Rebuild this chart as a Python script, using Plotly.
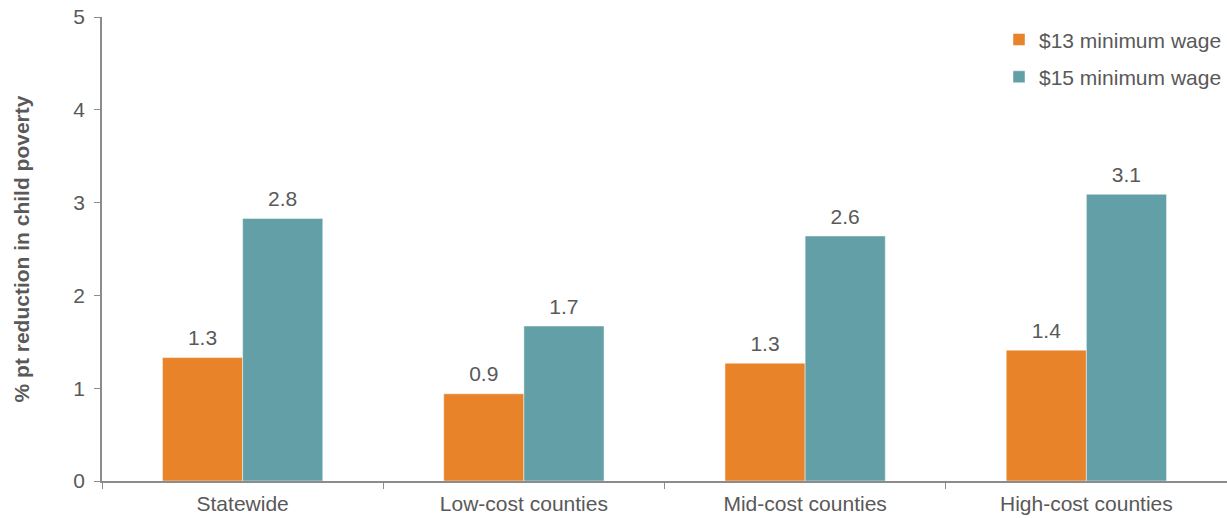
import plotly.graph_objects as go

categories = ["Statewide", "Low-cost counties", "Mid-cost counties", "High-cost counties"]
wage_13 = [1.33, 0.94, 1.27, 1.41]
wage_15 = [2.83, 1.67, 2.64, 3.09]
series_names = ["$13 minimum wage", "$15 minimum wage"]
colors = ["#E8832A", "#629FA6"]

FONT = "Liberation Sans, Arial, sans-serif"
GREY = "#595959"
AXIS = "#8C8C8C"
SIZE = 21
GAP = 0.43

fig = go.Figure()
for i, (name, vals, col) in enumerate(zip(series_names, [wage_13, wage_15], colors)):
    fig.add_trace(go.Bar(
        x=categories, y=vals, name=name, legendgroup=f"g{i}",
        marker=dict(color=col, line=dict(color="rgba(255,255,255,0.6)", width=0.8)),
    ))
# value labels, grouped the same way as the bars and lifted by a hidden marker
for i, vals in enumerate([wage_13, wage_15]):
    fig.add_trace(go.Scatter(
        x=categories, y=vals, mode="markers+text", showlegend=False,
        hoverinfo="skip", legendgroup=f"g{i}",
        marker=dict(size=10, color="rgba(0,0,0,0)"),
        texttemplate="%{y:.1f}", textposition="top center",
        textfont=dict(family=FONT, size=SIZE, color=GREY),
        cliponaxis=False,
    ))

fig.update_layout(
    width=1227, height=518,
    margin=dict(l=102, r=0, t=17, b=37),
    plot_bgcolor="white", paper_bgcolor="white",
    barmode="group", bargap=GAP, bargroupgap=0,
    scattermode="group", scattergap=GAP,
    font=dict(family=FONT, size=SIZE, color=GREY),
    legend=dict(x=1, xanchor="right", y=0.995, yanchor="top",
                font=dict(family=FONT, size=SIZE, color=GREY),
                traceorder="grouped", tracegroupgap=7,
                itemwidth=30, bgcolor="rgba(0,0,0,0)"),
    showlegend=True,
)
fig.update_xaxes(
    showline=True, linecolor=AXIS, linewidth=1.5,
    ticks="outside", tickson="boundaries", ticklen=6, tickcolor=AXIS,
    tickfont=dict(family=FONT, size=SIZE, color=GREY),
    ticklabelstandoff=3,
    showgrid=False,
)
fig.update_yaxes(
    range=[0, 5], dtick=1,
    showline=True, linecolor=AXIS, linewidth=1.5,
    ticks="outside", ticklen=6, tickcolor=AXIS,
    tickfont=dict(family=FONT, size=SIZE, color=GREY),
    ticklabelstandoff=5,
    showgrid=False, zeroline=False,
    title=dict(text="<b>% pt reduction in child poverty</b>",
               font=dict(family=FONT, size=SIZE, color=GREY), standoff=38),
)

fig.write_html("out.html")
